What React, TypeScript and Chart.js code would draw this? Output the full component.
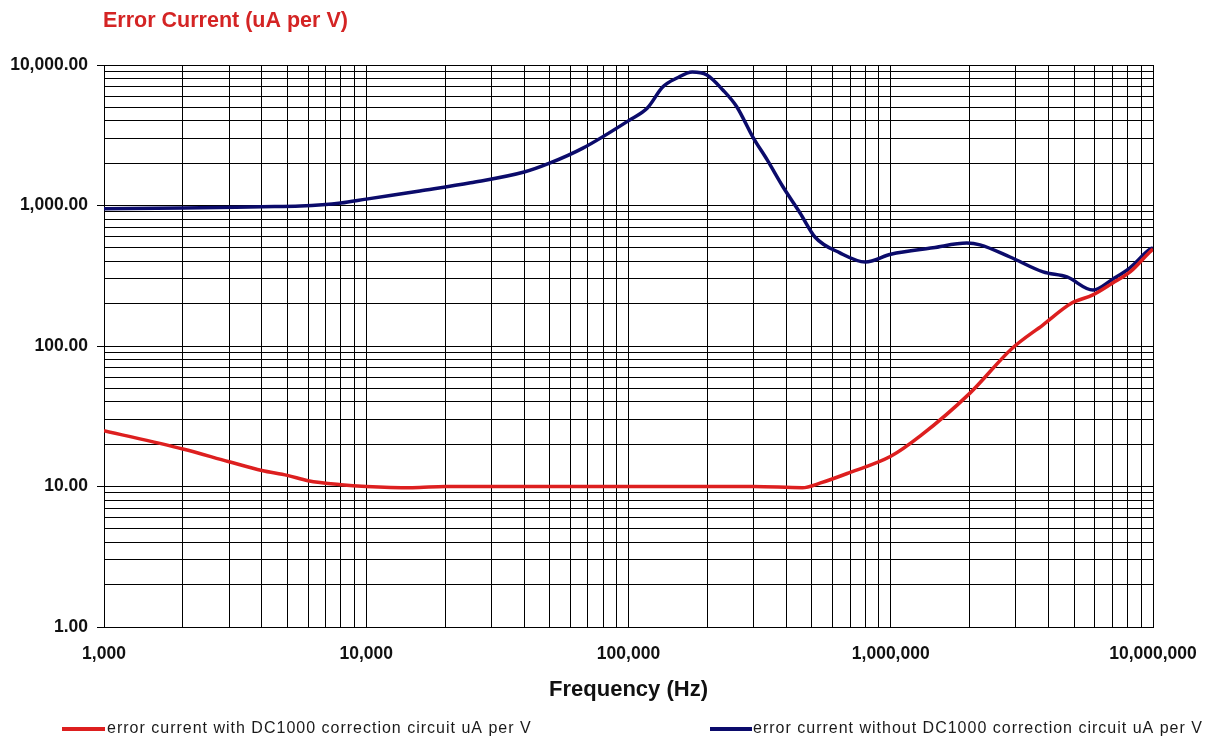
import React, { useEffect, useRef } from "react";
import { Chart, registerables } from "chart.js";

Chart.register(...registerables);

const chartTitle = "Error Current (uA per V)";
const xAxisTitle = "Frequency (Hz)";

const withLabel = "error current with DC1000 correction circuit uA per V";
const withoutLabel = "error current without DC1000 correction circuit uA per V";

const xMajorTicks = [1000, 10000, 100000, 1000000, 10000000];
const xMajorLabels = ["1,000", "10,000", "100,000", "1,000,000", "10,000,000"];
const yMajorTicks = [1, 10, 100, 1000, 10000];
const yMajorLabels = ["1.00", "10.00", "100.00", "1,000.00", "10,000.00"];
const minorSteps = [1, 2, 3, 4, 5, 6, 7, 8, 9];

const withoutFreq = [
  1000, 2000, 4000, 5600, 8000, 10000, 16000, 25000, 40000, 50000, 67000,
  101000, 118000, 135000, 153000, 175000, 199000, 229000, 259000, 298000,
  338000, 388000, 451000, 514000, 640000, 800000, 1000000, 1450000, 1950000,
  2190000, 2850000, 3810000, 4700000, 5900000, 7040000, 8170000, 9750000,
  10000000,
];
const withoutVals = [
  950, 960, 980, 990, 1040, 1110, 1270, 1450, 1730, 2000, 2560, 4060, 4940,
  6970, 8080, 8920, 8490, 6640, 5030, 3070, 2110, 1360, 885, 597, 460, 396,
  450, 500, 540, 525, 430, 337, 310, 250, 300, 360, 490, 500,
];

const withFreq = [
  1000, 2000, 3000, 4000, 5000, 6000, 8000, 10000, 15000, 20000, 100000,
  300000, 460000, 540000, 700000, 1000000, 1300000, 2000000, 2900000, 3800000,
  4900000, 5900000, 7000000, 8200000, 9700000, 10000000,
];
const withVals = [
  25, 18.5, 15, 13, 12, 11, 10.3, 10, 9.8, 10, 10, 10, 9.8, 10.6, 12.6, 16.4,
  23, 46, 96, 141, 202, 231, 280, 338, 465, 490,
];

const RED = "#dd1f1f";
const BLUE = "#0b0b6b";
const FONT = "'Liberation Sans', Arial, sans-serif";

function gridValues(majors: number[]) {
  const out: number[] = [];
  for (let i = 0; i < majors.length - 1; i++) {
    for (const s of minorSteps) out.push(majors[i] * s);
  }
  out.push(majors[majors.length - 1]);
  return out;
}

export default function App() {
  const ref = useRef<HTMLCanvasElement | null>(null);

  useEffect(() => {
    if (!ref.current) return;
    const xGrid = gridValues(xMajorTicks);
    const yGrid = gridValues(yMajorTicks);

    const overlay = {
      id: "overlay",
      afterDraw(chart: any) {
        const ctx = chart.ctx;
        const area = chart.chartArea;
        ctx.save();
        ctx.fillStyle = "#d42424";
        ctx.font = `bold 21.5px ${FONT}`;
        ctx.textAlign = "left";
        ctx.textBaseline = "middle";
        ctx.fillText(chartTitle, area.left - 1, 21);

        const ly = 729;
        ctx.font = `16px ${FONT}`;
        (ctx as any).letterSpacing = "1px";
        ctx.fillStyle = "#1a1a1a";
        ctx.lineWidth = 4;
        ctx.strokeStyle = RED;
        ctx.beginPath();
        ctx.moveTo(62, ly);
        ctx.lineTo(105, ly);
        ctx.stroke();
        ctx.fillText(withLabel, 107, ly);

        ctx.strokeStyle = BLUE;
        ctx.beginPath();
        ctx.moveTo(710, ly);
        ctx.lineTo(752, ly);
        ctx.stroke();
        ctx.fillText(withoutLabel, 753, ly);
        (ctx as any).letterSpacing = "0px";
        ctx.restore();
      },
    };

    const chart = new Chart(ref.current, {
      type: "line",
      data: {
        datasets: [
          {
            label: withLabel,
            data: withFreq.map((f, i) => ({ x: f, y: withVals[i] })),
            borderColor: RED,
            borderWidth: 3.5,
            pointRadius: 0,
            cubicInterpolationMode: "monotone",
            fill: false,
          },
          {
            label: withoutLabel,
            data: withoutFreq.map((f, i) => ({ x: f, y: withoutVals[i] })),
            borderColor: BLUE,
            borderWidth: 3.5,
            pointRadius: 0,
            cubicInterpolationMode: "monotone",
            fill: false,
          },
        ],
      },
      options: {
        responsive: false,
        animation: false,
        devicePixelRatio: 1,
        layout: { padding: { top: 65, right: 61, bottom: 36, left: 0 } },
        plugins: {
          legend: { display: false },
          title: { display: false },
          tooltip: { enabled: false },
        },
        scales: {
          x: {
            type: "logarithmic",
            min: 1000,
            max: 10000000,
            afterBuildTicks: (scale: any) => {
              scale.ticks = xGrid.map((v) => ({ value: v }));
            },
            afterFit: (scale: any) => {
              scale.height = 80;
            },
            ticks: {
              autoSkip: false,
              maxRotation: 0,
              padding: 17,
              color: "#111",
              font: { family: FONT, size: 17.5, weight: "bold" },
              callback: (v: any) => {
                const i = xMajorTicks.indexOf(Number(v));
                return i >= 0 ? xMajorLabels[i] : "";
              },
            },
            grid: { color: "#000", lineWidth: 1, drawTicks: false },
            border: { display: true, color: "#000", width: 1 },
            title: {
              display: true,
              text: xAxisTitle,
              color: "#111",
              font: { family: FONT, size: 22, weight: "bold" },
              padding: { top: 0, bottom: 4 },
            },
          },
          y: {
            type: "logarithmic",
            min: 1,
            max: 10000,
            afterBuildTicks: (scale: any) => {
              scale.ticks = yGrid.map((v) => ({ value: v }));
            },
            afterFit: (scale: any) => {
              scale.width = 104;
            },
            ticks: {
              autoSkip: false,
              padding: 9,
              color: "#111",
              font: { family: FONT, size: 17.5, weight: "bold" },
              callback: (v: any) => {
                const i = yMajorTicks.indexOf(Number(v));
                return i >= 0 ? yMajorLabels[i] : "";
              },
            },
            grid: {
              color: "#000",
              lineWidth: 1,
              drawTicks: true,
              tickLength: 7,
              tickColor: (c: any) =>
                c.tick && yMajorTicks.indexOf(c.tick.value) >= 0 ? "#000" : "rgba(0,0,0,0)",
            },
            border: { display: true, color: "#000", width: 1 },
          },
        },
      } as any,
      plugins: [overlay],
    });
    return () => chart.destroy();
  }, []);

  return (
    <div style={{ position: "fixed", left: 0, top: 0, width: 1214, height: 743, background: "#fff" }}>
      <canvas ref={ref} width={1214} height={743} style={{ width: 1214, height: 743, display: "block" }} />
    </div>
  );
}
